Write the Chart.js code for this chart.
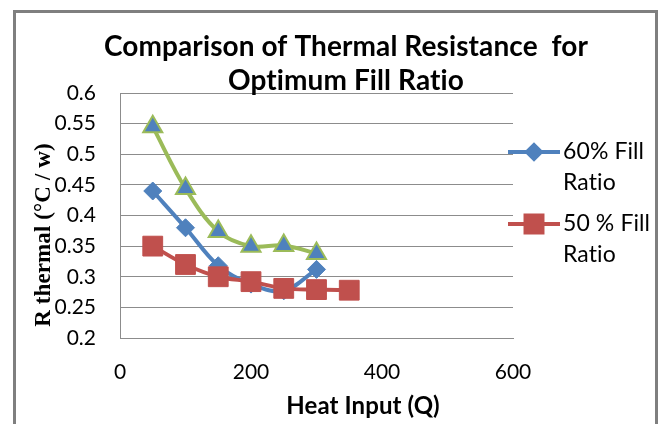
<!DOCTYPE html>
<html>
<head>
<meta charset="utf-8">
<script src="https://cdn.jsdelivr.net/npm/chart.js@4/dist/chart.umd.min.js"></script>
<style>
  html, body { margin: 0; padding: 0; background: #ffffff; }
  #wrap { position: relative; width: 661px; height: 424px; }
  canvas { display: block; }
</style>
</head>
<body>
<div id="wrap"><canvas id="c" width="661" height="424"></canvas></div>
<script>
// ---- data ----
const heatInput = [50, 100, 150, 200, 250, 300, 350];
const fill60 = [0.44, 0.38, 0.318, 0.288, 0.277, 0.312];
const fill50 = [0.35, 0.32, 0.30, 0.292, 0.281, 0.279, 0.278];
const seriesGreen = [0.545, 0.444, 0.374, 0.35, 0.351, 0.338];
const seriesLabels = ['60% Fill Ratio', '50 % Fill Ratio', ''];
const legendLines = [['60% Fill', 'Ratio'], ['50 % Fill', 'Ratio']];
const titleLines = ['Comparison of Thermal Resistance  for', 'Optimum Fill Ratio'];
const xAxisTitle = 'Heat Input (Q)';
const yAxisTitle = 'R thermal (\u00B0C / w)';
const xTicks = [0, 200, 400, 600];
const yTicks = [0.2, 0.25, 0.3, 0.35, 0.4, 0.45, 0.5, 0.55, 0.6];

const toPts = (vals) => vals.map((v, i) => ({ x: heatInput[i], y: v }));

const BLUE = '#4F81BD', RED = '#C0504D', GREEN = '#9BBB59';
const GRID = '#8c8c8c';
const SANS = 'Lato, "Open Sans", sans-serif';

const decorPlugin = {
  id: 'decor',
  beforeDraw(chart) {
    const ctx = chart.ctx;
    ctx.save();
    ctx.fillStyle = '#ffffff';
    ctx.fillRect(0, 0, chart.width, chart.height);
    ctx.restore();
  },
  afterDraw(chart) {
    const ctx = chart.ctx;
    ctx.save();
    // tiny letter spacing switches off the Lato "ti" ligature
    if ('letterSpacing' in ctx) ctx.letterSpacing = '0.1px';
    // outer border
    ctx.strokeStyle = '#7f7f7f';
    ctx.lineWidth = 3;
    ctx.beginPath();
    ctx.moveTo(14.5, 424);
    ctx.lineTo(14.5, 11.5);
    ctx.lineTo(656.5, 11.5);
    ctx.lineTo(656.5, 424);
    ctx.stroke();

    // title
    ctx.fillStyle = '#000000';
    ctx.textAlign = 'center';
    ctx.textBaseline = 'middle';
    ctx.font = 'bold 28px ' + SANS;
    ctx.fillText(titleLines[0], 346, 47);
    ctx.fillText(titleLines[1], 346, 81);

    // x axis title
    ctx.font = 'bold 24px ' + SANS;
    ctx.fillText(xAxisTitle, 363, 406);

    // y axis title
    ctx.save();
    ctx.translate(44, 235);
    ctx.rotate(-Math.PI / 2);
    ctx.font = 'bold 23px "Liberation Serif", "Times New Roman", serif';
    ctx.fillText(yAxisTitle, 0, 0);
    ctx.restore();

    // legend (first two series only)
    const items = [
      { ds: chart.data.datasets[0], y: 152, lines: legendLines[0], r: 7 },
      { ds: chart.data.datasets[1], y: 224, lines: legendLines[1], r: 12 }
    ];
    items.forEach(it => {
      ctx.strokeStyle = it.ds.borderColor;
      ctx.lineWidth = 4;
      ctx.beginPath();
      ctx.moveTo(508, it.y);
      ctx.lineTo(560, it.y);
      ctx.stroke();
      ctx.fillStyle = it.ds.pointBackgroundColor;
      ctx.strokeStyle = it.ds.pointBorderColor;
      Chart.helpers.drawPoint(ctx, {
        pointStyle: it.ds.pointStyle, radius: it.r, rotation: 0, borderWidth: 1
      }, 534, it.y);
      ctx.fillStyle = '#000000';
      ctx.textAlign = 'left';
      ctx.textBaseline = 'middle';
      ctx.font = '23px ' + SANS;
      ctx.fillText(it.lines[0], 563, it.y);
      ctx.fillText(it.lines[1], 563, it.y + 31);
    });
    ctx.restore();
  }
};

new Chart(document.getElementById('c'), {
  type: 'line',
  data: {
    datasets: [
      {
        label: seriesLabels[0],
        data: toPts(fill60),
        borderColor: BLUE, backgroundColor: BLUE,
        pointBackgroundColor: BLUE, pointBorderColor: BLUE,
        borderWidth: 4, pointStyle: 'rectRot', pointRadius: 9, pointBorderWidth: 1,
        tension: 0.35, order: 3
      },
      {
        label: seriesLabels[1],
        data: toPts(fill50),
        borderColor: RED, backgroundColor: RED,
        pointBackgroundColor: RED, pointBorderColor: RED,
        borderWidth: 4, pointStyle: 'rect', pointRadius: 14, pointBorderWidth: 1,
        tension: 0.35, order: 2
      },
      {
        label: seriesLabels[2],
        data: toPts(seriesGreen),
        borderColor: GREEN, backgroundColor: BLUE,
        pointBackgroundColor: BLUE, pointBorderColor: GREEN,
        borderWidth: 4, pointStyle: 'triangle', pointRadius: 11, pointBorderWidth: 2,
        tension: 0.35, order: 1
      }
    ]
  },
  options: {
    responsive: false,
    animation: false,
    events: [],
    layout: { padding: { top: 93, right: 148, bottom: 0, left: 0 } },
    plugins: { legend: { display: false }, title: { display: false }, tooltip: { enabled: false } },
    scales: {
      x: {
        type: 'linear', min: 0, max: 600,
        afterBuildTicks: (s) => { s.ticks = xTicks.map(v => ({ value: v })); },
        afterFit: (s) => { s.height = 424 - 338; },
        grid: { display: false, drawTicks: false },
        border: { display: true, color: GRID, width: 1 },
        ticks: { color: '#000', font: { family: SANS, size: 21 }, padding: 22, maxRotation: 0 }
      },
      y: {
        type: 'linear', min: 0.2, max: 0.6,
        afterBuildTicks: (s) => { s.ticks = yTicks.map(v => ({ value: v })); },
        afterFit: (s) => { s.width = 120; },
        grid: { display: true, color: GRID, lineWidth: 1, drawTicks: false },
        border: { display: true, color: GRID, width: 1 },
        ticks: { color: '#000', font: { family: SANS, size: 21 }, padding: 24,
                 callback: (v) => String(Math.round(v * 100) / 100) }
      }
    }
  },
  plugins: [decorPlugin]
});
</script>
</body>
</html>
